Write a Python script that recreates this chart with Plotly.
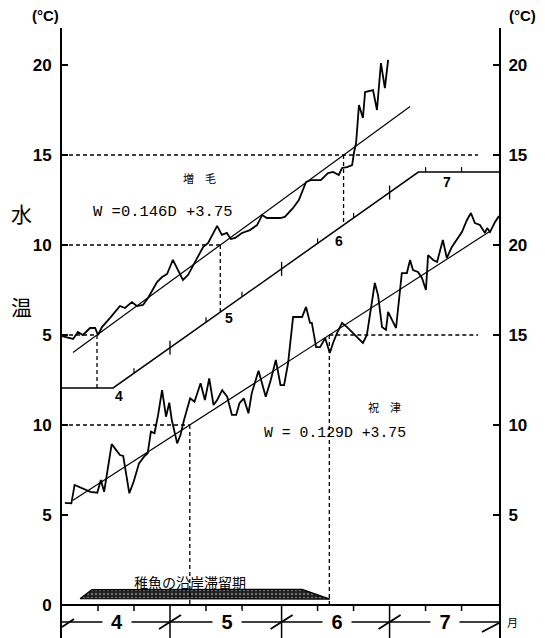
import numpy as np
import plotly.graph_objects as go

# ---------------- data (days counted from 1 April) ----------------
# 増毛 (upper panel, its own temperature scale)
UP_DAY = [0, 3.1, 4.4, 5.8, 7.8, 9.2, 10.0, 11.1, 13.3, 14.7, 16.1, 17.5, 19.4, 20.8, 22.5, 23.9,
          26.4, 27.8, 29.2, 30.8, 33.6, 35.0, 36.9, 38.3, 39.2, 40.6, 42.5, 43.1, 44.4, 45.8, 46.9,
          48.1, 50.0, 52.2, 54.2, 55.6, 56.9, 60.6, 61.9, 64.2, 65.8, 67.8, 69.2, 71.9, 73.9, 75.3,
          76.9, 77.8, 79.2, 80.6, 81.1, 81.7, 82.5, 83.6, 84.2, 86.4, 87.5, 88.6, 89.7, 90.6]
UP_TEMP = [4.94, 4.78, 5.17, 5.0, 5.39, 5.39, 5.0, 5.44, 5.94, 6.28, 6.61, 6.5, 6.83, 6.61, 6.67, 7.06,
           7.94, 8.22, 8.39, 9.17, 8.06, 8.33, 9.0, 9.56, 9.89, 10.11, 10.83, 11.06, 10.56, 10.67, 10.33,
           10.39, 10.67, 10.83, 11.11, 11.67, 11.5, 11.5, 11.56, 12.06, 12.5, 13.5, 13.61, 13.61, 14.0, 14.06,
           13.89, 14.28, 14.33, 14.44, 15.11, 15.67, 17.78, 17.06, 18.5, 18.61, 17.5, 20.11, 18.72, 20.28]

# 祝津 (lower panel)
LOW_DAY = [0.8, 2.6, 3.5, 5.9, 7.9, 9.8, 10.8, 11.7, 13.8, 16.1, 17.0, 18.7, 19.9, 21.4, 22.8, 23.8,
           24.7, 25.7, 26.7, 27.8, 28.9, 29.8, 30.5, 32.0, 32.9, 33.9, 35.6, 36.8, 38.5, 39.7, 40.9,
           42.1, 43.1, 44.5, 45.9, 47.2, 48.4, 49.3, 50.5, 51.8, 52.7, 54.6, 56.6, 58.0, 59.4, 60.7,
           61.7, 62.8, 64.2, 66.7, 67.8, 68.9, 69.4, 70.6, 71.7, 73.1, 74.4, 75.3, 76.4, 77.8, 79.2,
           82.8, 83.6, 84.7, 85.8, 86.9, 87.8, 88.9, 90.0, 90.6, 91.7, 92.8, 94.4, 95.8, 96.7, 97.5,
           98.9, 100.0, 101.1, 101.7, 103.1, 104.2, 105.8, 106.9, 108.3, 109.7, 111.1, 112.5, 113.6,
           114.7, 116.1, 117.5, 118.1, 118.9, 120.3, 121.4]
LOW_TEMP = [5.67, 5.65, 6.67, 6.48, 6.29, 6.24, 6.94, 6.29, 8.94, 8.33, 8.28, 6.21, 6.85, 7.87, 8.24, 8.43,
            9.63, 9.54, 10.56, 11.94, 10.46, 11.24, 10.28, 8.98, 9.44, 10.28, 11.48, 11.29, 12.32, 11.39, 12.59,
            11.11, 11.39, 11.94, 11.57, 10.56, 10.56, 11.21, 11.48, 10.65, 11.76, 13.02, 11.57, 12.5, 13.61, 12.22,
            12.22, 13.43, 16.0, 16.0, 16.56, 15.67, 15.67, 14.33, 14.33, 14.83, 14.0, 14.56, 15.11, 15.67, 15.44,
            14.72, 14.56, 15.0, 16.56, 17.89, 17.22, 15.44, 15.28, 16.28, 15.83, 15.39, 18.44, 18.44, 19.17, 18.61,
            18.5, 18.17, 17.5, 19.44, 19.17, 19.06, 20.28, 19.28, 19.89, 20.28, 20.72, 21.39, 21.78,
            21.22, 21.11, 20.67, 20.94, 20.72, 21.28, 21.61]

UPPER_OFFSET = 10            # upper panel is drawn 10 degrees above the lower scale

UP_SLOPE, UP_INTERCEPT = 0.146, 3.58
UP_FIT_DAYS = [3.05, 96.7]
LOW_SLOPE, LOW_INTERCEPT = 0.129, 5.42
LOW_FIT_DAYS = [3.05, 118.9]
UP_LEVELS = [5, 10, 15]      # guide levels on the upper panel
LOW_LEVELS = [10, 15]        # guide levels on the lower panel

# date scale line of the upper panel (upper-panel units)
DATE_LINE_DAY = [0, 14.2, 99.0, 121.4]
DATE_LINE_TEMP = [2.06, 2.06, 14.05, 14.05]

MONTH_START = [0, 30, 61, 91]
MONTH_END = 121.4
MONTH_MID = [15, 45.5, 76, 106]
MONTH_LABELS = ["4", "5", "6", "7"]
TEN_DAY_TICKS = [10, 20, 40, 50, 71, 81, 101, 111]
DATE_SMALL_TICKS = [20, 40, 50, 71, 81, 101, 111]

# 稚魚の沿岸滞留期 band
STAY_DAY = [5.0, 8.3, 66.7, 74.4, 5.0]
STAY_LEVEL = [0.35, 0.85, 0.87, 0.33, 0.35]

LEFT_TICK_VALS = [0, 5, 10, 15, 20, 25, 30]
LEFT_TICK_TEXT = ["0", "5", "10", "5", "10", "15", "20"]
RIGHT_TICK_VALS = [5, 10, 15, 20, 25, 30]
RIGHT_TICK_TEXT = ["5", "10", "15", "20", "15", "20"]

Y_RANGE = [-1.833, 32.056]
X_RANGE = [0, MONTH_END]

# ---------------- figure ----------------
# the page body has an 8px margin, so the figure is made 8px smaller
W, H = 537, 630
ML, MR, MT, MB = 54, 46, 20, 0
PY = (Y_RANGE[1] - Y_RANGE[0]) / (H - MT - MB)   # data units per pixel
PX = (X_RANGE[1] - X_RANGE[0]) / (W - ML - MR)

def to_paper_x(d):
    return (d - X_RANGE[0]) / (X_RANGE[1] - X_RANGE[0])

def to_paper_y(v):
    return (v - Y_RANGE[0]) / (Y_RANGE[1] - Y_RANGE[0])

fig = go.Figure()

def date_line_y(d):
    return float(np.interp(d, DATE_LINE_DAY, DATE_LINE_TEMP)) + UPPER_OFFSET

# stay band
fig.add_trace(go.Scatter(x=STAY_DAY, y=STAY_LEVEL, mode="lines", fill="toself",
                         line=dict(color="black", width=1.2),
                         fillcolor="#1e1e1e",
                         fillpattern=dict(shape=".", bgcolor="#1e1e1e", fgcolor="#bdbdbd",
                                          size=4, solidity=0.3),
                         hoverinfo="skip", showlegend=False))

# data series
fig.add_trace(go.Scatter(x=UP_DAY, y=np.array(UP_TEMP) + UPPER_OFFSET, mode="lines",
                         line=dict(color="black", width=1.8), showlegend=False))
fig.add_trace(go.Scatter(x=LOW_DAY, y=LOW_TEMP, mode="lines",
                         line=dict(color="black", width=1.8), showlegend=False))

# regression lines
ud = np.array(UP_FIT_DAYS)
fig.add_trace(go.Scatter(x=ud, y=UP_SLOPE * ud + UP_INTERCEPT + UPPER_OFFSET, mode="lines",
                         line=dict(color="black", width=1.2), showlegend=False))
ld = np.array(LOW_FIT_DAYS)
fig.add_trace(go.Scatter(x=ld, y=LOW_SLOPE * ld + LOW_INTERCEPT, mode="lines",
                         line=dict(color="black", width=1.2), showlegend=False))

# date line
fig.add_trace(go.Scatter(x=DATE_LINE_DAY, y=np.array(DATE_LINE_TEMP) + UPPER_OFFSET, mode="lines",
                         line=dict(color="black", width=1.5), showlegend=False))

# right-axis dummy trace
fig.add_trace(go.Scatter(x=[0], y=[0], yaxis="y2", mode="markers", marker=dict(opacity=0),
                         showlegend=False, hoverinfo="skip"))

shapes = []
def seg(x0, y0, x1, y1, width=1.2, dash="solid"):
    shapes.append(dict(type="line", xref="x", yref="y", x0=x0, y0=y0, x1=x1, y1=y1,
                       line=dict(color="black", width=width, dash=dash)))

DASH = "4px,3px"
RIGHT_DASH_END = MONTH_END - 21 * PX
# upper guide lines
for lev in UP_LEVELS:
    d = (lev - UP_INTERCEPT) / UP_SLOPE
    yv = lev + UPPER_OFFSET
    seg(0, yv, d if lev != 15 else RIGHT_DASH_END, yv, 1.3, DASH)
    seg(d, yv, d, date_line_y(d), 1.3, DASH)
# lower guide lines
for lev in LOW_LEVELS:
    d = (lev - LOW_INTERCEPT) / LOW_SLOPE
    if lev == 10:
        seg(0, lev, d, lev, 1.3, DASH)
    else:
        seg(d, lev, RIGHT_DASH_END, lev, 1.3, DASH)
    seg(d, lev, d, 0, 1.3, DASH)

# ticks on the date line
for d in DATE_SMALL_TICKS:
    yv = date_line_y(d)
    seg(d, yv, d, yv + 5 * PY, 1.2)
for d in MONTH_START[1:]:
    yv = date_line_y(d)
    seg(d, yv - 7 * PY, d, yv + 7 * PY, 1.3)

# x axis line at 0 and bottom month band
seg(0, 0, MONTH_END, 0, 2)
for d in TEN_DAY_TICKS:
    seg(d, 0, d, -6 * PY, 1.5)
for d in MONTH_START[1:]:
    seg(d, 0, d, Y_RANGE[0], 1.5)
band_y = -17 * PY
seg(0, band_y, MONTH_END, band_y, 1.5)
for d in MONTH_START[1:]:
    seg(d - 11 * PX, band_y - 7 * PY, d + 11 * PX, band_y + 7 * PY, 1.8)
seg(0, band_y - 5 * PY, 12 * PX, band_y + 3 * PY, 1.8)
seg(MONTH_END - 17 * PX, band_y - 10 * PY, MONTH_END, band_y - 1 * PY, 1.8)

annotations = []
def txt(x, y, s, size, family="Liberation Sans", bold=False, paper=False, **kw):
    if paper:
        a = dict(x=to_paper_x(x), y=to_paper_y(y), xref="paper", yref="paper")
    else:
        a = dict(x=x, y=y, xref="x", yref="y")
    a.update(text=s, showarrow=False, xanchor="center", yanchor="middle",
             font=dict(family=family, size=size, color="black",
                       weight="bold" if bold else "normal"))
    a.update(kw)
    annotations.append(a)

for lab, d in zip(MONTH_LABELS, MONTH_MID):
    txt(d, band_y, lab, 20, bold=True, bgcolor="white", width=26, xshift=1)
    txt(d, date_line_y(d), lab, 14, bold=True, yshift=-10, xshift=3)

txt(MONTH_END + 13 * PX, band_y, "月", 11, family="Noto Sans CJK JP", paper=True)
txt(-17 * PX, Y_RANGE[1] + 13 * PY, "(°C)", 15, bold=True, paper=True)
txt(MONTH_END + 23 * PX, Y_RANGE[1] + 13 * PY, "(°C)", 15, bold=True, paper=True)
txt(-41 * PX, 21.8, "水", 21, family="Noto Sans CJK JP", paper=True)
txt(-41 * PX, 16.6, "温", 21, family="Noto Sans CJK JP", paper=True)

txt(38.3, 23.7, "増　毛", 11, family="Noto Sans CJK JP")
txt(28.0, 21.85, "W =0.146D +3.75", 15.5, family="Liberation Mono")
txt(89.7, 11.0, "祝　津", 11, family="Noto Sans CJK JP")
txt(75.7, 9.55, "W = 0.129D +3.75", 14.8, family="Liberation Mono")
txt(35.5, 1.3, "稚魚の沿岸滞留期", 14, family="Noto Sans CJK JP")

tickfont = dict(family="Liberation Sans", size=17, color="black", weight="bold")
fig.update_layout(
    width=W, height=H, margin=dict(l=ML, r=MR, t=MT, b=MB, pad=0, autoexpand=False),
    paper_bgcolor="white", plot_bgcolor="white", showlegend=False,
    xaxis=dict(range=X_RANGE, showgrid=False, zeroline=False, showline=False,
               showticklabels=False, ticks=""),
    yaxis=dict(range=Y_RANGE, showgrid=False, zeroline=False, showline=True,
               linecolor="black", linewidth=2, ticks="inside", ticklen=6, tickwidth=1.5,
               tickcolor="black", tickvals=LEFT_TICK_VALS, ticktext=LEFT_TICK_TEXT,
               tickfont=tickfont, ticklabelstandoff=5),
    yaxis2=dict(range=Y_RANGE, overlaying="y", side="right", showgrid=False, zeroline=False,
                showline=True, linecolor="black", linewidth=2, ticks="inside", ticklen=6,
                tickwidth=1.5, tickcolor="black", tickvals=RIGHT_TICK_VALS,
                ticktext=RIGHT_TICK_TEXT, tickfont=tickfont, ticklabelstandoff=4),
    shapes=shapes, annotations=annotations,
)

fig.write_html("out.html")
